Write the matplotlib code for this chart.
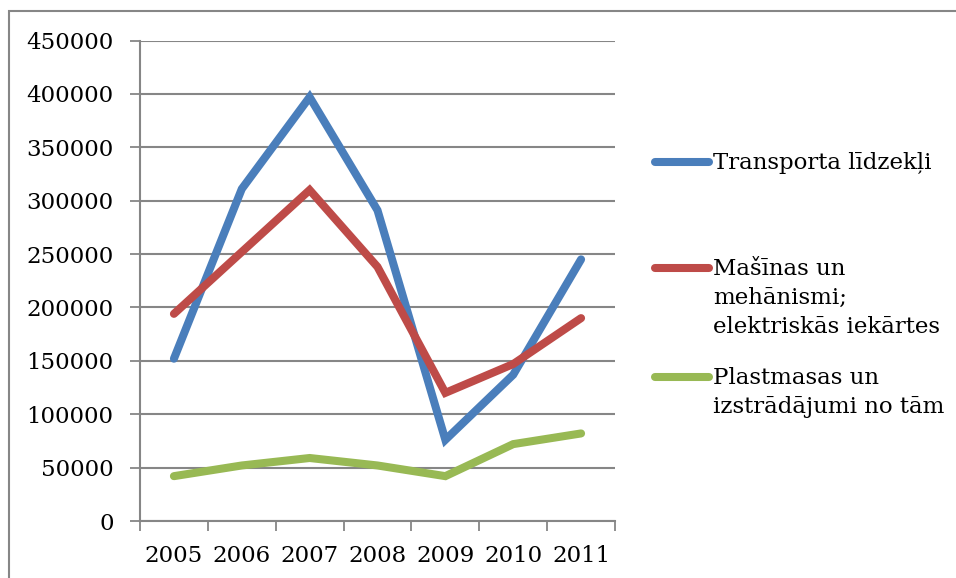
import matplotlib.pyplot as plt
from matplotlib.lines import Line2D
from matplotlib.patches import Rectangle

years = ["2005", "2006", "2007", "2008", "2009", "2010", "2011"]
transport = [152000, 311000, 397000, 291000, 76000, 137000, 245000]
masinas = [194000, 252000, 310000, 238000, 120000, 147000, 190000]
plastmasas = [42000, 52000, 59000, 52000, 42000, 72000, 82000]
labels = [
    "Transporta līdzekļi",
    "Mašīnas un\nmehānismi;\nelektriskās iekārtes",
    "Plastmasas un\nizstrādājumi no tām",
]
colors = ["#4A7EBB", "#BE4B48", "#98B954"]
yticks = list(range(0, 450001, 50000))

plt.rcParams["font.family"] = ["DejaVu Serif"]
W, H = 956, 578
fs = 16.5
fig = plt.figure(figsize=(W / 100, H / 100), dpi=100)
ax = fig.add_axes([140 / W, 1 - 521 / H, 475 / W, (521 - 40.5) / H])

x = list(range(len(years)))
for series, color in zip([transport, masinas, plastmasas], colors):
    ax.plot(x, series, color=color, linewidth=5.8, solid_capstyle="round",
            solid_joinstyle="miter", zorder=3)

grid = "#868686"
ax.set_xlim(-0.5, len(years) - 0.5)
ax.set_ylim(0, 450000)
ax.set_yticks(yticks)
ax.set_yticklabels([str(v) for v in yticks])
ax.set_xticks([i - 0.5 for i in range(len(years) + 1)])
ax.set_xticklabels([])
ax.set_xticks(x, minor=True)
ax.set_xticklabels(years, minor=True)
ax.tick_params(axis="x", which="minor", length=0, pad=17.5, labelsize=fs)
ax.tick_params(axis="x", which="major", length=7, width=1.3, color=grid)
ax.tick_params(axis="y", length=7, width=1.3, color=grid, pad=12, labelsize=fs)
ax.yaxis.grid(True, color=grid, linewidth=1.5)
ax.set_axisbelow(True)
for side in ["top", "right"]:
    ax.spines[side].set_visible(False)
for side in ["left", "bottom"]:
    ax.spines[side].set_color(grid)
    ax.spines[side].set_linewidth(1.5)

# legend drawn by hand so the line sits at the first text line
legend_y = [162, 268, 377]
for lab, color, yy in zip(labels, colors, legend_y):
    fy = 1 - yy / H
    fig.add_artist(Line2D([655 / W, 709 / W], [fy, fy], color=color,
                          linewidth=5.8, solid_capstyle="round"))
    fig.text(713 / W, fy + 10 / H, lab, ha="left", va="top", fontsize=fs,
             linespacing=1.4)

fig.add_artist(Rectangle((9 / W, -0.1), 1.2, 1 - 11 / H + 0.1,
                         transform=fig.transFigure, fill=False,
                         edgecolor="#868686", linewidth=1.5))

fig.savefig("out.png", dpi=100)
